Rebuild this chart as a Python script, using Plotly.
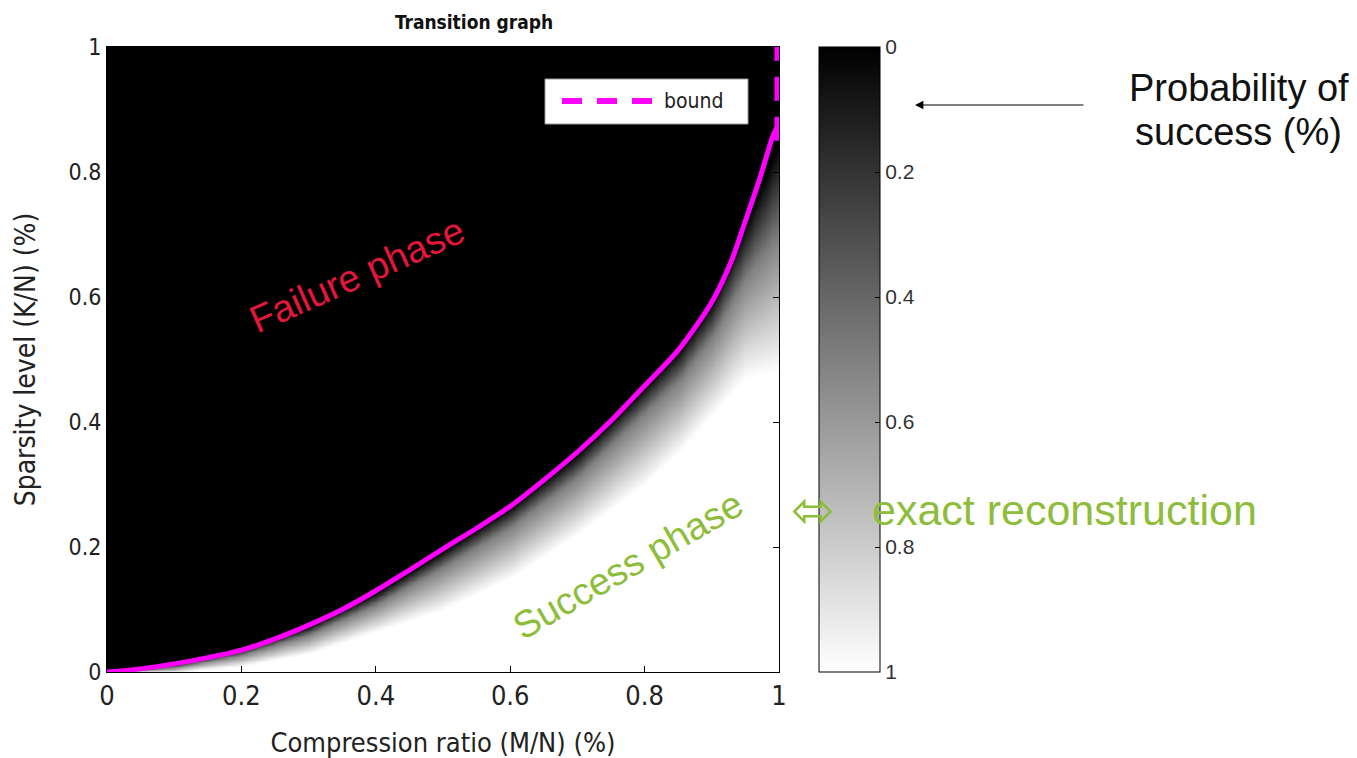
import numpy as np
import plotly.graph_objects as go

# ---------------- data ----------------
# theoretical bound curve (x = M/N, y = K/N)
bound_x = [0, 0.05, 0.1, 0.15, 0.2, 0.25, 0.3, 0.35, 0.4, 0.45, 0.5, 0.55, 0.6,
           0.65, 0.7, 0.75, 0.8, 0.85, 0.9, 0.93, 0.95, 0.97, 0.98, 0.99, 0.997]
bound_y = [0, 0.005, 0.013, 0.023, 0.035, 0.053, 0.075, 0.1, 0.13, 0.163, 0.197,
           0.23, 0.265, 0.307, 0.352, 0.402, 0.458, 0.515, 0.592, 0.66, 0.722,
           0.785, 0.82, 0.855, 0.872]
# vertical dashed part of the bound at the right edge
bound_edge_x = [0.997, 0.997]
bound_edge_y = [0.85, 1.0]

# empirical success probability: per column, levels where P(success)=0, 0.5, 1
edge_x = [0, 0.1, 0.2, 0.3, 0.4, 0.5, 0.6, 0.7, 0.8, 0.85, 0.9, 0.95, 1.0]
dark_y = [0, 0.013, 0.036, 0.074, 0.128, 0.195, 0.265, 0.35, 0.458, 0.515, 0.592, 0.715, 0.85]
mid_y = [0, 0.008, 0.028, 0.06, 0.108, 0.168, 0.232, 0.312, 0.415, 0.465, 0.535, 0.63, 0.70]
light_y = [0, 0.0, 0.01, 0.03, 0.065, 0.10, 0.15, 0.22, 0.30, 0.35, 0.41, 0.47, 0.48]

x_ticks = [0, 0.2, 0.4, 0.6, 0.8, 1]
y_ticks = [0, 0.2, 0.4, 0.6, 0.8, 1]
tick_text = ["0", "0.2", "0.4", "0.6", "0.8", "1"]
cbar_vals = [1, 0.8, 0.6, 0.4, 0.2, 0]   # failure scale (1 - success)
cbar_labels = ["0", "0.2", "0.4", "0.6", "0.8", "1"]

# ---------------- build grid ----------------
gx = np.linspace(0, 1, 201)
gy = np.linspace(0, 1, 251)
dk = np.interp(gx, edge_x, dark_y)
md = np.interp(gx, edge_x, mid_y)
lt = np.interp(gx, edge_x, light_y)
P = np.zeros((len(gy), len(gx)))
for i in range(len(gx)):
    xp = [lt[i], md[i] + 1e-9, dk[i] + 2e-9]
    P[:, i] = np.interp(gy, xp, [1.0, 0.5, 0.0])
fail = np.round(1.0 - P, 3)

W, H = 1357, 758
L, R, T, B = 107, 779, 47, 672  # plot area in px

NARROW = "Liberation Sans Narrow, Arial Narrow, DejaVu Sans Condensed, sans-serif"
REG = "Liberation Sans, Arial, sans-serif"


def px(xp):
    return (xp - L) / (R - L)


def py(yp):
    return (B - yp) / (B - T)


fig = go.Figure()
fig.add_trace(go.Heatmap(
    x=gx, y=gy, z=fail, zmin=0, zmax=1, zsmooth="best",
    colorscale=[[0, "white"], [1, "black"]],
    showscale=True, hoverinfo="skip",
    colorbar=dict(
        xref="paper", yref="paper",
        x=px(819), xanchor="left", y=1, yanchor="top",
        lenmode="fraction", len=1, thickness=61,
        xpad=0, ypad=0, outlinewidth=1, outlinecolor="black",
        tickvals=cbar_vals, ticktext=cbar_labels,
        ticks="inside", ticklen=5, tickcolor="black",
        tickfont=dict(family=REG, size=21, color="#333"),
    ),
))
fig.add_trace(go.Scatter(
    x=bound_x, y=bound_y, mode="lines", showlegend=False,
    line=dict(color="#ff00ff", width=5, shape="spline", smoothing=0.8),
    hoverinfo="skip"))
fig.add_trace(go.Scatter(
    x=bound_edge_x, y=bound_edge_y, mode="lines", showlegend=False,
    line=dict(color="#ff00ff", width=5, dash="24px,16px"), hoverinfo="skip"))

# manual legend box
fig.add_shape(type="rect", xref="paper", yref="paper",
              x0=px(545), x1=px(748), y0=py(124), y1=py(79),
              fillcolor="white", line=dict(color="#999", width=1))
fig.add_shape(type="line", xref="paper", yref="paper",
              x0=px(562), x1=px(652), y0=py(101), y1=py(101),
              line=dict(color="#ff00ff", width=6, dash="20px,15px"))
fig.add_annotation(xref="paper", yref="paper", x=px(662), y=py(101),
                   text="bound", showarrow=False, xanchor="left", yanchor="middle",
                   font=dict(family=NARROW, size=21, color="#222"))


def label(xc, yc, text, size, color, angle=0, family=REG):
    fig.add_annotation(xref="paper", yref="paper", x=px(xc), y=py(yc),
                       text=text, showarrow=False, textangle=angle,
                       xanchor="center", yanchor="middle",
                       font=dict(family=family, size=size, color=color))


RED = "#e3163c"
GREEN = "#8dbd3a"
label(357, 275, "Failure phase", 38, RED, -24)
label(628, 565, "Success phase", 38, GREEN, -30)
label(813, 510, "⬄", 52, GREEN, family="DejaVu Sans")
label(1064, 510, "exact reconstruction", 43, GREEN)
label(1239, 88, "Probability of", 38, "#111")
label(1238, 132, "success (%)", 38, "#111")

fig.add_annotation(xref="paper", yref="paper", x=px(915), y=py(105),
                   ax=170, ay=0, text="", showarrow=True,
                   arrowhead=2, arrowsize=1.4, arrowwidth=1.2, arrowcolor="black")

axis_common = dict(range=[0, 1], showgrid=False, zeroline=False, automargin=False,
                   showline=True, linecolor="black", linewidth=1, mirror="ticks",
                   ticks="inside", ticklen=6, tickcolor="black")
fig.update_layout(
    width=W, height=H,
    margin=dict(l=L, r=W - R, t=T, b=H - B, autoexpand=False),
    paper_bgcolor="white", plot_bgcolor="white",
    showlegend=False,
    title=dict(text="<b>Transition graph</b>", x=474 / W, xref="container",
               y=1 - 22 / H, yref="container", yanchor="middle", xanchor="center",
               font=dict(family=NARROW, size=19, color="#111")),
    xaxis=dict(axis_common, tickvals=x_ticks, ticktext=tick_text,
               tickfont=dict(family=NARROW, size=27, color="#222"),
               title=dict(text="Compression ratio (M/N) (%)", standoff=23,
                          font=dict(family=NARROW, size=27, color="#222"))),
    yaxis=dict(axis_common, tickvals=y_ticks, ticktext=tick_text,
               tickfont=dict(family=NARROW, size=23, color="#222"),
               title=dict(text="Sparsity level (K/N) (%)", standoff=24,
                          font=dict(family=NARROW, size=28, color="#222"))),
)
fig.write_html("out.html")
